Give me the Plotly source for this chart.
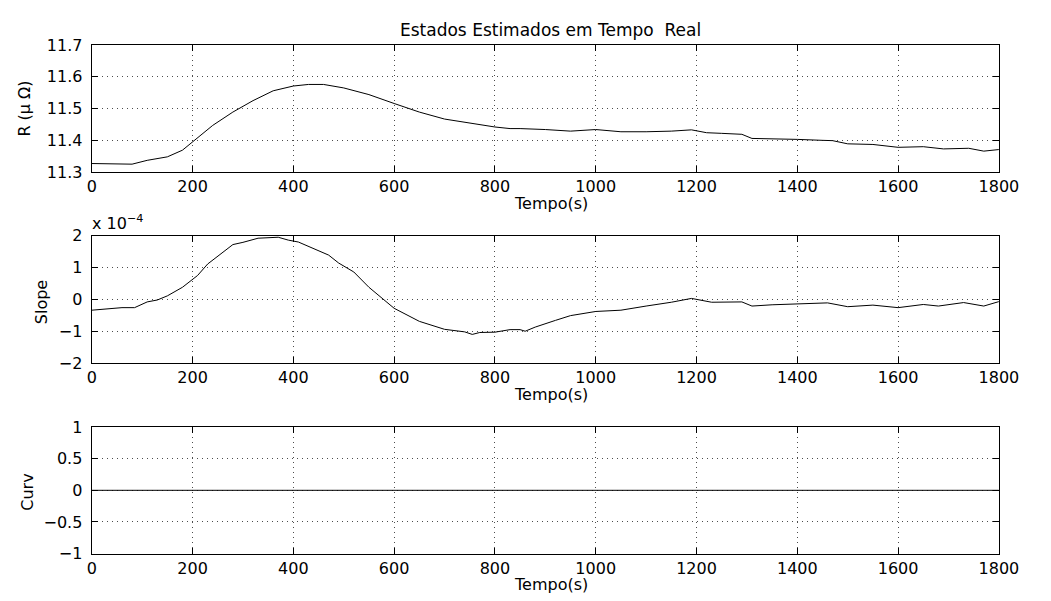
import plotly.graph_objects as go

# ---------------- data ----------------
r_time = [0, 50, 80, 110, 150, 180, 200, 240, 280, 320, 360, 400, 430, 460, 500,
          550, 600, 650, 700, 750, 800, 830, 850, 900, 950, 1000, 1050, 1100, 1150,
          1190, 1220, 1250, 1290, 1310, 1350, 1400, 1450, 1470, 1500, 1550, 1600,
          1650, 1690, 1740, 1770, 1800]
r_values = [11.327, 11.327, 11.325, 11.337, 11.348, 11.369, 11.394, 11.447, 11.489,
            11.525, 11.556, 11.571, 11.576, 11.576, 11.565, 11.544, 11.516, 11.489,
            11.467, 11.454, 11.442, 11.437, 11.437, 11.434, 11.429, 11.434, 11.427,
            11.427, 11.429, 11.433, 11.424, 11.422, 11.419, 11.406, 11.405, 11.403,
            11.400, 11.399, 11.389, 11.387, 11.378, 11.380, 11.373, 11.375, 11.366,
            11.371]

slope_time = [0, 30, 60, 85, 110, 130, 150, 180, 200, 210, 230, 260, 280, 300, 330,
              370, 390, 410, 440, 470, 490, 520, 550, 600, 650, 700, 740, 755, 770,
              800, 830, 850, 860, 880, 920, 950, 1000, 1050, 1100, 1150, 1190, 1230,
              1290, 1310, 1350, 1400, 1460, 1500, 1550, 1600, 1650, 1680, 1730, 1770,
              1800]
# slope in units of 1e-4
slope_x1e4 = [-0.34, -0.29, -0.26, -0.26, -0.08, -0.02, 0.11, 0.38, 0.64, 0.75, 1.11,
              1.49, 1.72, 1.79, 1.92, 1.95, 1.86, 1.80, 1.59, 1.39, 1.14, 0.86, 0.38,
              -0.28, -0.69, -0.94, -1.02, -1.10, -1.04, -1.03, -0.95, -0.95, -1.00,
              -0.87, -0.66, -0.51, -0.38, -0.34, -0.21, -0.09, 0.03, -0.09, -0.08,
              -0.21, -0.17, -0.14, -0.11, -0.23, -0.18, -0.26, -0.16, -0.21, -0.10,
              -0.21, -0.07]

curv_time = [0, 1800]
curv_values = [0, 0]

x_ticks = [0, 200, 400, 600, 800, 1000, 1200, 1400, 1600, 1800]
r_ticks = [11.3, 11.4, 11.5, 11.6, 11.7]
slope_ticks = [-2, -1, 0, 1, 2]
curv_ticks = [-1, -0.5, 0, 0.5, 1]

title_text = "Estados Estimados em Tempo  Real"
x_title = "Tempo(s)"
y_titles = ["R (\u03bc \u03a9)", "Slope", "Curv"]

# ---------------- layout helpers ----------------
# the page has an 8px body margin; the figure is sized so the page fits the window
PAGE_W, PAGE_H = 1051, 601
OFF = 8
W, H = PAGE_W - 2 * OFF, PAGE_H - 2 * OFF
FONT = "DejaVu Sans, Arial, sans-serif"
FS = 16
FS_TITLE = 17


def px(x):
    return (x - OFF) / W


def py(y):
    return 1 - (y - OFF) / H


x_dom = [px(88.7), px(1018.3)]
panels = [(37.0, 168.3), (234.0, 365.7), (431.7, 562.7)]

fig = go.Figure()

series = [(r_time, r_values), (slope_time, slope_x1e4), (curv_time, curv_values)]
for i, (xs, ys) in enumerate(series):
    fig.add_trace(go.Scatter(
        x=xs, y=ys, mode="lines",
        line=dict(color="black", width=1),
        xaxis="x" if i == 0 else f"x{i+1}",
        yaxis="y" if i == 0 else f"y{i+1}",
        showlegend=False, hoverinfo="skip",
    ))

axis_common = dict(
    showline=True, linecolor="black", linewidth=1.3, mirror="ticks",
    ticks="inside", ticklen=6, tickwidth=1, tickcolor="black",
    showgrid=True, gridcolor="rgba(0,0,0,0.7)", gridwidth=1, griddash="1px,4px",
    zeroline=False, tickfont=dict(family=FONT, size=FS, color="black"),
    fixedrange=True,
)

y_ranges = [[11.3, 11.7], [-2, 2], [-1, 1]]
y_tickvals = [r_ticks, slope_ticks, curv_ticks]
y_ticktext = [
    ["11.3", "11.4", "11.5", "11.6", "11.7"],
    ["\u22122", "\u22121", "0", "1", "2"],
    ["\u22121", "\u22120.5", "0", "0.5", "1"],
]

layout = dict(
    width=W, height=H, autosize=False,
    margin=dict(l=0, r=0, t=0, b=0),
    paper_bgcolor="white", plot_bgcolor="white",
    font=dict(family=FONT, size=FS, color="black"),
    annotations=[],
)

for i, (top, bot) in enumerate(panels):
    xa = "xaxis" if i == 0 else f"xaxis{i+1}"
    ya = "yaxis" if i == 0 else f"yaxis{i+1}"
    xname = "x" if i == 0 else f"x{i+1}"
    yname = "y" if i == 0 else f"y{i+1}"
    layout[xa] = dict(
        axis_common, domain=x_dom, range=[0, 1800], anchor=yname,
        tickvals=x_ticks, ticktext=[str(v) for v in x_ticks], ticklabelstandoff=0,
    )
    layout[ya] = dict(
        axis_common, domain=[py(bot), py(top)], range=y_ranges[i], anchor=xname,
        tickvals=y_tickvals[i], ticktext=y_ticktext[i], ticklabelstandoff=5,
    )
    # x axis title
    layout["annotations"].append(dict(
        text=x_title, xref="paper", yref="paper",
        x=px(559), y=py(bot + 32), xanchor="center", yanchor="middle",
        showarrow=False, font=dict(family=FONT, size=FS, color="black"),
    ))

# y axis titles
y_title_pos = [(20, 103), (37.5, 303), (22, 499)]
for i, (tx, ty) in enumerate(y_title_pos):
    layout["annotations"].append(dict(
        text=y_titles[i], xref="paper", yref="paper",
        x=px(tx), y=py(ty), xanchor="center", yanchor="middle",
        textangle=-90, showarrow=False, font=dict(family=FONT, size=FS, color="black"),
    ))

# exponent label for slope
layout["annotations"].append(dict(
    text="x 10<sup>\u22124</sup>", xref="paper", yref="paper",
    x=px(87), y=py(220), xanchor="left", yanchor="middle",
    showarrow=False, font=dict(family=FONT, size=FS, color="black"),
))

# title
layout["annotations"].append(dict(
    text=title_text, xref="paper", yref="paper",
    x=px(559), y=py(21), xanchor="center", yanchor="middle",
    showarrow=False, font=dict(family=FONT, size=FS_TITLE, color="black"),
))

fig.update_layout(**layout)
fig.write_html("out.html")
